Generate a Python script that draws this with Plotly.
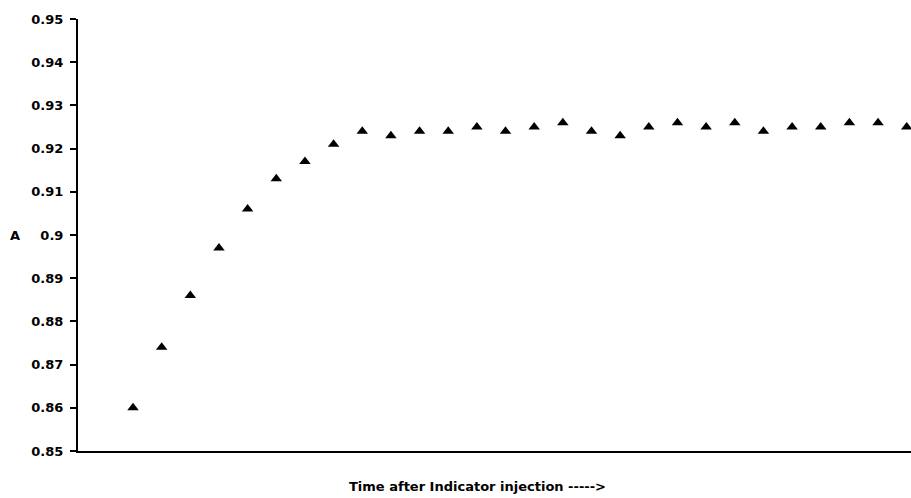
import plotly.graph_objects as go

time_index = list(range(1, 29))
absorbance = [0.860, 0.874, 0.886, 0.897, 0.906, 0.913, 0.917, 0.921, 0.924, 0.923,
              0.924, 0.924, 0.925, 0.924, 0.925, 0.926, 0.924, 0.923, 0.925, 0.926,
              0.925, 0.926, 0.924, 0.925, 0.925, 0.926, 0.926, 0.925]
y_ticks = [0.85, 0.86, 0.87, 0.88, 0.89, 0.9, 0.91, 0.92, 0.93, 0.94, 0.95]
y_tick_labels = ["0.85", "0.86", "0.87", "0.88", "0.89", "0.9", "0.91", "0.92", "0.93", "0.94", "0.95"]

FONT = "DejaVu Sans"

fig = go.Figure()
fig.add_trace(go.Scatter(
    x=time_index, y=absorbance, mode="markers",
    marker=dict(symbol="triangle-up", size=10, color="black", line=dict(width=0)),
    showlegend=False, hoverinfo="skip",
))

fig.update_layout(
    width=911, height=498,
    margin=dict(l=78, r=0, t=19, b=47),
    paper_bgcolor="white", plot_bgcolor="white",
    font=dict(family=FONT, color="black"),
    xaxis=dict(
        range=[-0.92, 28.15], showgrid=False, zeroline=False,
        showline=True, linecolor="black", linewidth=2,
        showticklabels=False, ticks="",
    ),
    yaxis=dict(
        range=[0.85, 0.95], showgrid=False, zeroline=False,
        showline=True, linecolor="black", linewidth=2,
        tickmode="array", tickvals=y_ticks, ticktext=y_tick_labels,
        ticks="outside", ticklen=6, tickwidth=1.5, tickcolor="black",
        tickfont=dict(family=FONT, size=13, color="black", weight="bold"),
        ticklabelstandoff=4,
    ),
    annotations=[
        dict(text="<b>Time after Indicator injection -----></b>", xref="paper", yref="paper",
             x=0.479, y=-0.083, xanchor="center", yanchor="middle", showarrow=False,
             font=dict(family=FONT, size=13, color="black")),
        dict(text="<b>A</b>", xref="paper", yref="paper",
             x=-0.076, y=(451 - 235) / 432, xanchor="center", yanchor="middle", showarrow=False,
             font=dict(family=FONT, size=13, color="black")),
    ],
)

fig.write_html("out.html")
